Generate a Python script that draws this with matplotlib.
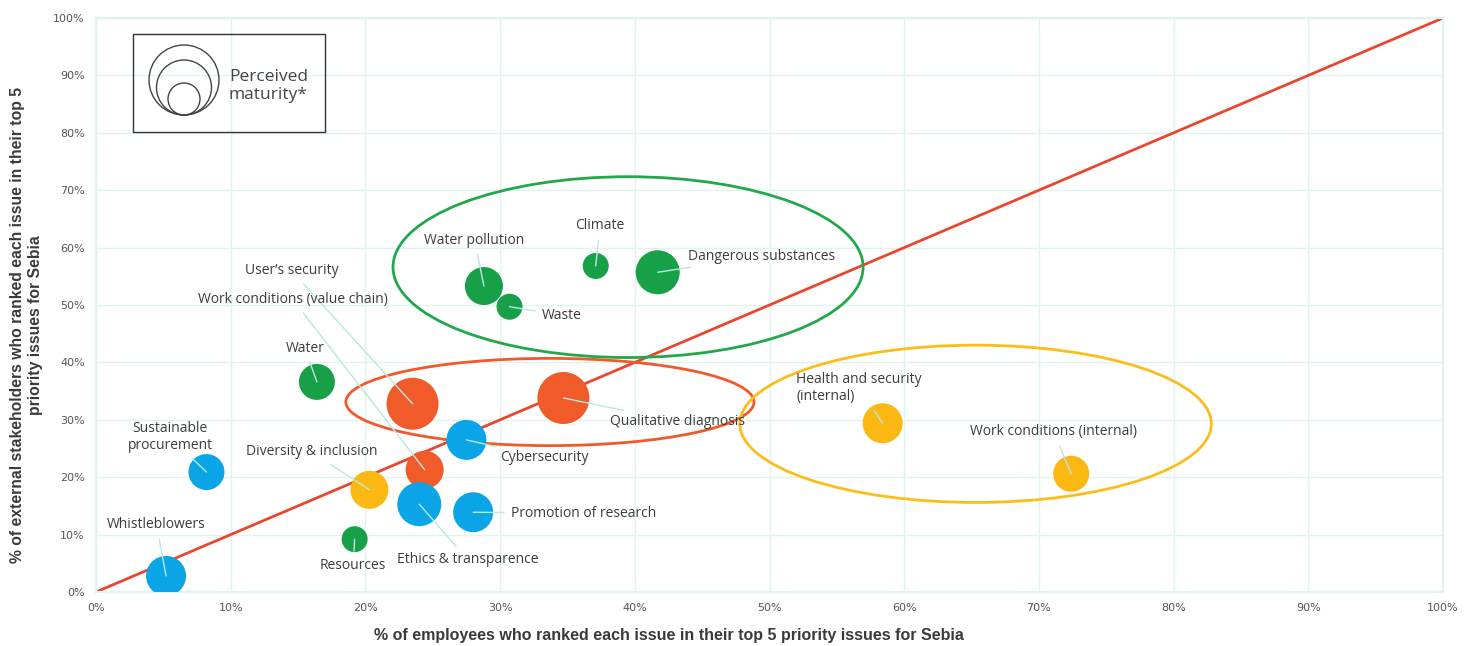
import matplotlib
matplotlib.use('Agg')
import matplotlib.pyplot as plt
from matplotlib.patches import Ellipse, Circle, Rectangle

# ----------------------------------------------------
# data
# ----------------------------------------------------
issues = ['Whistleblowers', 'Sustainable\nprocurement', 'Water', 'Resources',
          'Diversity & inclusion', "User’s security", 'Work conditions (value chain)',
          'Ethics & transparence', 'Cybersecurity', 'Promotion of research',
          'Qualitative diagnosis', 'Water pollution', 'Waste', 'Climate',
          'Dangerous substances', 'Health and security\n(internal)',
          'Work conditions (internal)']
employees = [5.2, 8.2, 16.4, 19.2, 20.3, 23.5, 24.4, 24.0, 27.5, 28.0,
             34.7, 28.8, 30.7, 37.1, 41.7, 58.4, 72.4]
stakeholders = [2.8, 20.9, 36.6, 9.2, 17.8, 32.8, 21.3, 15.3, 26.5, 13.9,
                33.8, 53.3, 49.7, 56.8, 55.7, 29.4, 20.6]
maturity = [20, 18, 18, 13, 19, 26, 19, 22, 20, 20,
            26, 19, 13, 13, 22, 20, 18]
groups = ['gov', 'gov', 'env', 'env', 'social', 'product', 'product',
          'gov', 'gov', 'gov', 'product', 'env', 'env', 'env', 'env',
          'social', 'social']

colors = {'env': '#17a047', 'product': '#f15a29', 'social': '#fbb813', 'gov': '#0aa5e6'}

# where each label sits (data coords)
label_pos = [(4.5, 11.7), (5.5, 27.0), (15.5, 42.5), (19.1, 4.6),
             (16.0, 24.4), (14.5, 56.0), (14.6, 51.0),
             (27.6, 5.6), (33.3, 23.4), (36.2, 13.7),
             (43.2, 29.7), (28.1, 61.3), (34.6, 48.2), (37.4, 63.8),
             (49.4, 58.5), (52.0, 35.5), (71.1, 27.9)]
label_ha = ['center'] * 15 + ['left', 'center']

tick_vals = list(range(0, 101, 10))
tick_labels = [str(v) + '%' for v in tick_vals]

my_dpi = 100
fig = plt.figure(figsize=(1472 / my_dpi, 646 / my_dpi), dpi=my_dpi)
ax = fig.add_axes([96 / 1472, 1 - 592 / 646, (1443 - 96) / 1472, (592 - 18) / 646])

grid_c = '#dff4ef'
ax.set_xlim(0, 100)
ax.set_ylim(0, 100)
ax.set_xticks(tick_vals)
ax.set_yticks(tick_vals)
ax.set_xticklabels(tick_labels, fontsize=8, color='#555555')
ax.set_yticklabels(tick_labels, fontsize=8, color='#555555')
ax.tick_params(length=0, pad=8)
ax.grid(True, color=grid_c, linewidth=1)
ax.set_axisbelow(True)
for sp in ax.spines.values():
    sp.set_color(grid_c)
    sp.set_linewidth(1.5)

# diagonal
ax.plot([0, 100], [0, 100], color='#e8472e', linewidth=2, zorder=2)

# group ellipses
ax.add_patch(Ellipse((39.5, 56.6), 34.9, 31.5, fill=False, edgecolor='#22a84a', linewidth=2, zorder=3))
ax.add_patch(Ellipse((33.7, 33.1), 30.3, 15.2, fill=False, edgecolor='#f05a2a', linewidth=2, zorder=3))
ax.add_patch(Ellipse((65.3, 29.3), 35.0, 27.4, fill=False, edgecolor='#fbbd1a', linewidth=2, zorder=3))

# bubbles
sizes = [(1.44 * m) ** 2 for m in maturity]
ax.scatter(employees, stakeholders, s=sizes, c=[colors[g] for g in groups],
           linewidths=0, zorder=4)

# labels with leader lines
for name, x, y, (tx, ty), ha in zip(issues, employees, stakeholders, label_pos, label_ha):
    ax.annotate(name, xy=(x, y), xytext=(tx, ty), ha=ha, va='center',
                fontsize=10, color='#3c3c3c', family=['Open Sans', 'DejaVu Sans'],
                linespacing=1.2, zorder=5,
                arrowprops=dict(arrowstyle='-', color='#b8e8e2', lw=1,
                                shrinkA=3, shrinkB=0))

ax.set_xlabel('% of employees who ranked each issue in their top 5 priority issues for Sebia',
              fontsize=11.5, fontweight='bold', color='#3a3a3a',
              family=['Liberation Sans', 'DejaVu Sans'])
ax.xaxis.set_label_coords(0.425, -0.062)
ax.set_ylabel('% of external stakeholders who ranked each issue in their top 5\npriority issues for Sebia',
              fontsize=11.3, fontweight='bold', color='#3a3a3a',
              family=['Liberation Sans', 'DejaVu Sans'], linespacing=1.3)
ax.yaxis.set_label_coords(-0.039, 0.465)

# legend box (pixel units)
lax = fig.add_axes([132 / 1472, 1 - 132 / 646, 193 / 1472, 99 / 646])
lax.set_xlim(0, 193)
lax.set_ylim(99, 0)
lax.axis('off')
lax.add_patch(Rectangle((0.5, 0.5), 192, 98, fill=False, edgecolor='#333333',
                        linewidth=1, clip_on=False))
for r in [35, 27.5, 16]:
    lax.add_patch(Circle((52, 82 - r), r, fill=False, edgecolor='#444444', linewidth=1))
lax.text(97, 53, 'Perceived\nmaturity*', fontsize=12.5, color='#444444', va='center',
         family=['Open Sans', 'DejaVu Sans'], linespacing=1.1)

fig.savefig('out.png', dpi=my_dpi)
